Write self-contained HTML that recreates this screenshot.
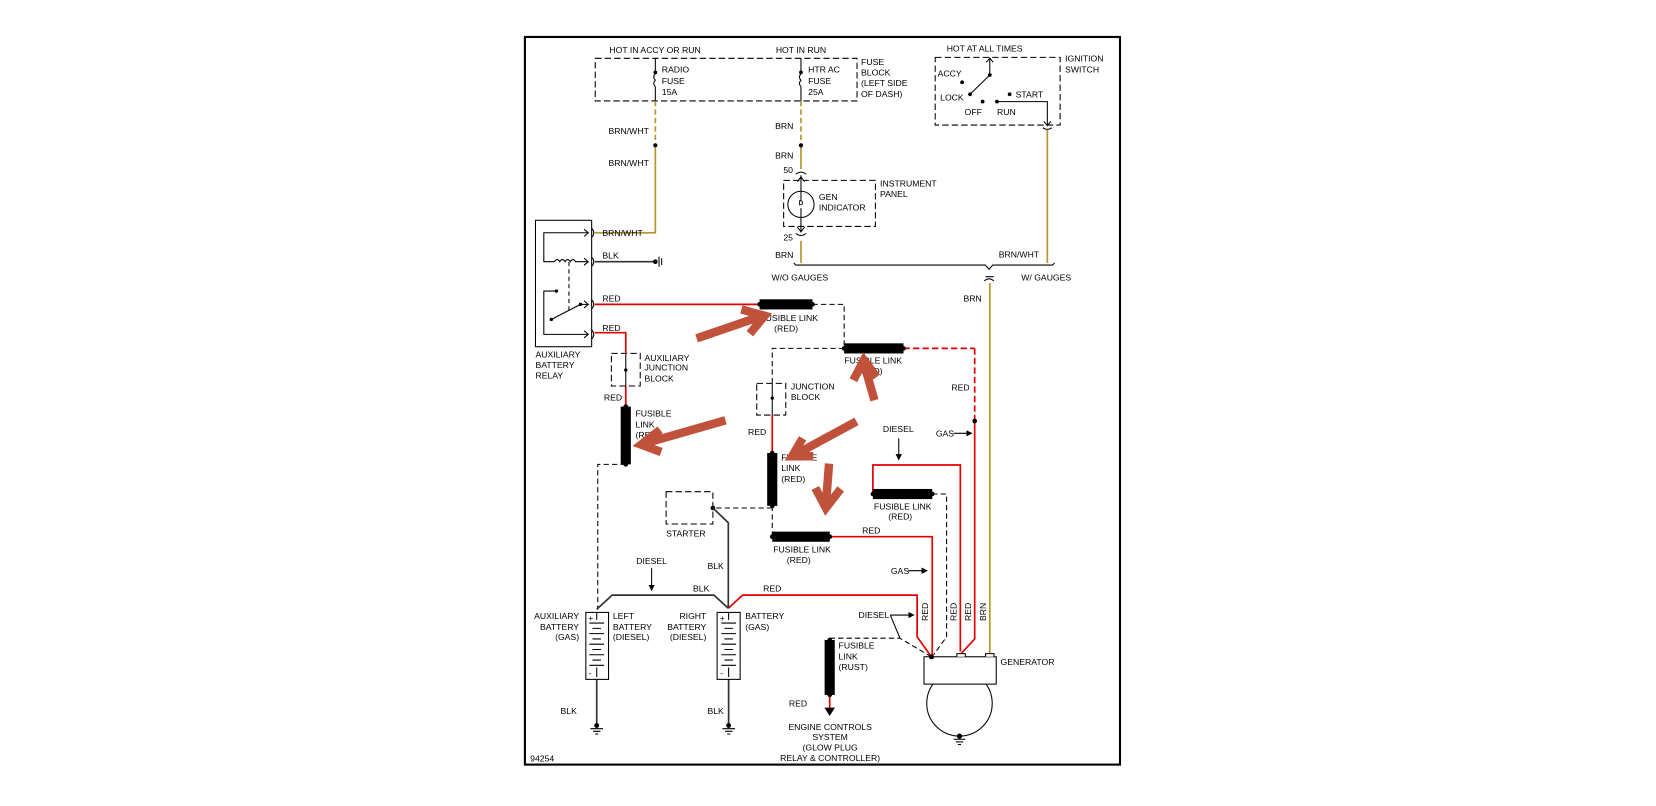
<!DOCTYPE html>
<html><head><meta charset="utf-8"><style>
html,body{margin:0;padding:0;background:#fff;width:1656px;height:806px;overflow:hidden}
svg{display:block}
text{font-family:"Liberation Sans",sans-serif;font-size:8.2px;fill:#000}
</style></head><body>
<svg width="1656" height="806" viewBox="0 0 1568 763.2" xmlns="http://www.w3.org/2000/svg">
<defs>
<marker id="ah" markerWidth="6" markerHeight="6" refX="5" refY="3" orient="auto" markerUnits="userSpaceOnUse"><path d="M0,0 L6,3 L0,6 z" fill="#000"/></marker>
</defs>
<rect x="497" y="35" width="563.5" height="689" fill="none" stroke="#000" stroke-width="2"/>

<g fill="none" stroke="#000" stroke-width="1" stroke-dasharray="6,3">
<rect x="563.6" y="55.2" width="247.9" height="40.4"/>
<rect x="885.5" y="54.3" width="118.3" height="64.1"/>
<rect x="742" y="170.8" width="86.9" height="43.6"/>
<rect x="578.9" y="334.6" width="27.3" height="30.9"/>
<rect x="716.5" y="363" width="27.5" height="30"/>
<rect x="630.7" y="465.6" width="44.3" height="30.6"/>
</g>
<text x="577" y="50">HOT IN ACCY OR RUN</text>
<text x="734.6" y="50">HOT IN RUN</text>
<text x="896.4" y="49">HOT AT ALL TIMES</text>
<text x="815.3" y="61.4">FUSE</text><text x="815.3" y="71.5">BLOCK</text><text x="815.3" y="81.3">(LEFT SIDE</text><text x="815.3" y="91.7">OF DASH)</text>
<text x="626.6" y="68.7">RADIO</text><text x="626.6" y="79.4">FUSE</text><text x="626.6" y="89.8">15A</text>
<text x="765.2" y="68.7">HTR AC</text><text x="765.2" y="79.4">FUSE</text><text x="765.2" y="89.8">25A</text>
<text x="1008.5" y="58.2">IGNITION</text><text x="1008.5" y="68.6">SWITCH</text>

<g stroke="#000" fill="none" stroke-width="1">
<line x1="620.5" y1="55.2" x2="620.5" y2="67"/><path d="M620.5,70 q-3,3 0,6 q-3,3 0,6"/><line x1="620.5" y1="82" x2="620.5" y2="95.6"/>
<line x1="758.4" y1="55.2" x2="758.4" y2="67"/><path d="M758.4,70 q-3,3 0,6 q-3,3 0,6"/><line x1="758.4" y1="82" x2="758.4" y2="95.6"/>
</g>
<circle cx="620.5" cy="68.5" r="1.8"/><circle cx="758.4" cy="68.5" r="1.8"/>

<text x="887.8" y="72.4">ACCY</text><circle cx="911" cy="77.9" r="1.8"/>
<text x="890.2" y="95">LOCK</text>
<line x1="918.5" y1="89.3" x2="937.2" y2="71" stroke="#000"/><circle cx="918.5" cy="89.3" r="1.8"/><circle cx="937.2" cy="71" r="1.8"/>
<line x1="937.2" y1="71" x2="937.2" y2="55" stroke="#000"/><path d="M934,59 L937.2,55 L940.4,59" fill="none" stroke="#000"/>
<text x="913.4" y="108.7">OFF</text><circle cx="930.4" cy="96.2" r="1.8"/>
<text x="944" y="108.7">RUN</text><circle cx="944" cy="96.2" r="1.8"/>
<polyline points="944,96.2 991.7,96.2 991.7,119" fill="none" stroke="#000"/><path d="M988.5,115 L991.7,119 L994.9,115" fill="none" stroke="#000"/>
<path d="M987.5,121 q4.2,3 8.4,0" fill="none" stroke="#000"/>
<circle cx="956" cy="89.3" r="1.8"/><text x="961.7" y="92.3">START</text>

<g stroke="#b8962e" stroke-width="1.6" fill="none">
<line x1="620.5" y1="95.6" x2="620.5" y2="137" stroke-dasharray="5,3"/>
<polyline points="620.5,138 620.5,220.4 563.2,220.4"/>
<line x1="758.4" y1="95.6" x2="758.4" y2="137" stroke-dasharray="5,3"/>
<line x1="758.4" y1="138" x2="758.4" y2="160"/>
<line x1="758.4" y1="228" x2="758.4" y2="249"/>
<line x1="991.7" y1="123" x2="991.7" y2="249"/>
<line x1="937.2" y1="268" x2="937.2" y2="619"/>
</g>
<circle cx="620.5" cy="137.6" r="2"/><circle cx="758.4" cy="137.6" r="2"/>
<text x="576.2" y="126.7">BRN/WHT</text><text x="576.2" y="157">BRN/WHT</text>
<text x="733.9" y="122">BRN</text><text x="733.9" y="150">BRN</text>
<text x="741.7" y="164">50</text><text x="741.7" y="227.8">25</text><text x="733.9" y="244.2">BRN</text>
<path d="M753.5,165 q4.9,-4 9.8,0" fill="none" stroke="#000"/>
<path d="M753.5,221 q4.9,4 9.8,0" fill="none" stroke="#000"/>
<circle cx="758.4" cy="193.5" r="12.4" fill="none" stroke="#000"/>
<line x1="758.4" y1="166" x2="758.4" y2="190" stroke="#000"/><line x1="758.4" y1="197" x2="758.4" y2="220" stroke="#000"/>
<path d="M755,172 L758.4,167.5 L761.8,172 M755,215 L758.4,219.5 L761.8,215" fill="none" stroke="#000"/>
<path d="M757,190 q3,0 3,2 q0,2 -3,2 z" fill="none" stroke="#000" stroke-width="0.8"/>
<text x="775.4" y="189.3">GEN</text><text x="775.4" y="199.3">INDICATOR</text>
<text x="833.3" y="176.6">INSTRUMENT</text><text x="833.3" y="186.4">PANEL</text>

<polyline points="751.6,249 753.6,251 933,251 936.5,255 940,251 996.5,251 998.5,249" fill="none" stroke="#000"/>
<path d="M932,266 q4.5,-4 9,0" fill="none" stroke="#000"/>
<line x1="933" y1="262" x2="941" y2="262" stroke="#000"/>
<text x="730.5" y="265.6">W/O GAUGES</text><text x="945.7" y="244">BRN/WHT</text>
<text x="967" y="265.6">W/ GAUGES</text><text x="912.3" y="285.5">BRN</text>

<rect x="507" y="208.6" width="53.2" height="119.7" fill="none" stroke="#000"/>
<g fill="none" stroke="#000">
<polyline points="557,220.4 514.9,220.4 514.9,247.8 525,247.8"/>
<path d="M525,247.8 q2.5,-4 5,0 q2.5,-4 5,0 q2.5,-4 5,0 q2.5,-4 5,0 L557,247.8"/>
<line x1="538.7" y1="248" x2="538.7" y2="296" stroke-dasharray="4,3"/>
<polyline points="526.8,275.6 514.9,275.6 514.9,316.6 557,316.6"/>
<line x1="521" y1="303" x2="549.6" y2="288.2"/><line x1="549.6" y1="288.2" x2="557" y2="288.2"/>
<path d="M553,217 L557,220.4 L553,223.8 M553,244.4 L557,247.8 L553,251.2 M553,284.8 L557,288.2 L553,291.6 M553,313.2 L557,316.6 L553,320"/>
<path d="M560.2,216 q4,4.4 0,8.8 M560.2,243.4 q4,4.4 0,8.8 M560.2,283.8 q4,4.4 0,8.8 M560.2,312.2 q4,4.4 0,8.8"/>
</g>
<circle cx="526.8" cy="275.6" r="1.6"/><circle cx="549.6" cy="288.2" r="1.6"/><circle cx="522" cy="302.5" r="1.6"/>
<text x="507" y="338.5">AUXILIARY</text><text x="507" y="348.4">BATTERY</text><text x="507" y="358.3">RELAY</text>
<line x1="563.2" y1="247.8" x2="620.5" y2="247.8" stroke="#333" stroke-width="1.6"/>
<circle cx="620.5" cy="247.8" r="2.2"/><line x1="624" y1="243" x2="624" y2="252.6" stroke="#000"/><line x1="626.5" y1="244.5" x2="626.5" y2="251" stroke="#000"/>
<text x="570.4" y="223.4">BRN/WHT</text><text x="570.4" y="245">BLK</text><text x="570.4" y="285.5">RED</text><text x="570.4" y="313.5">RED</text>

<g stroke="#e00000" stroke-width="1.6" fill="none">
<line x1="563.2" y1="288.2" x2="719" y2="288.2"/>
<polyline points="563.2,315 592.5,315 592.5,334.6"/>
<line x1="592.5" y1="365.5" x2="592.5" y2="385"/>
<line x1="855.5" y1="329.9" x2="922.9" y2="329.9" stroke-dasharray="6,3"/>
<line x1="922.9" y1="329.9" x2="922.9" y2="398" stroke-dasharray="6,3"/>
<polyline points="922.9,399 922.9,605 910,619"/>
<line x1="731.2" y1="393" x2="731.2" y2="429"/>
<polyline points="785.7,508.2 882.7,508.2 882.7,622"/>
<polyline points="826.5,467.8 826.5,440.3 909.3,440.3 909.3,617"/>
<polyline points="689.6,576 703.2,563.5 868.4,563.5 868.4,603 882,622"/>
<line x1="785.6" y1="658" x2="785.6" y2="672"/>
</g>
<line x1="592.5" y1="334.6" x2="592.5" y2="365.5" stroke="#000"/>
<circle cx="592.5" cy="350.4" r="1.6"/>
<line x1="731.2" y1="363" x2="731.2" y2="393" stroke="#000"/><circle cx="731.2" cy="377" r="1.6"/>
<polygon points="780.6,670 790.6,670 785.6,678" fill="#000"/>

<g stroke="#000" fill="none" stroke-dasharray="5,3">
<polyline points="769.3,288.2 799.3,288.2 799.3,329.9"/>
<polyline points="799.3,329.9 731.2,329.9 731.2,363"/>
<polyline points="592.5,439.7 566,439.7 566,577"/>
<polyline points="731.2,479 731.2,508.2"/>
<polyline points="731.2,481 675,481"/>
<polyline points="882.7,467.8 896.3,467.8 896.3,603 884,620"/>
<polyline points="785.6,604.3 852,604.3 882,622"/>
</g>

<g fill="#000">
<rect x="719.2" y="283.4" width="50.1" height="9.6"/><circle cx="719.2" cy="288.2" r="2.2"/><circle cx="769.3" cy="288.2" r="2.2"/>
<rect x="799.3" y="325.1" width="56.2" height="9.6"/><circle cx="799.3" cy="329.9" r="2.2"/><circle cx="855.5" cy="329.9" r="2.2"/>
<rect x="587.7" y="385" width="9.6" height="54.7"/><circle cx="592.5" cy="385" r="2.2"/><circle cx="592.5" cy="439.7" r="2.2"/>
<rect x="726.4" y="429" width="9.6" height="50"/><circle cx="731.2" cy="429" r="2.2"/><circle cx="731.2" cy="479" r="2.2"/>
<rect x="731.2" y="503.4" width="54.5" height="9.6"/><circle cx="731.2" cy="508.2" r="2.2"/><circle cx="785.7" cy="508.2" r="2.2"/>
<rect x="826.5" y="463" width="56.2" height="9.6"/><circle cx="826.5" cy="467.8" r="2.2"/><circle cx="882.7" cy="467.8" r="2.2"/>
<rect x="780.8" y="606" width="9.6" height="52"/><circle cx="785.6" cy="606" r="2.2"/><circle cx="785.6" cy="658" r="2.2"/>
<circle cx="675" cy="481" r="2.2"/><circle cx="922.9" cy="398.7" r="2.2"/>
</g>
<text x="720" y="303.8">FUSIBLE LINK</text><text x="733" y="314">(RED)</text>
<text x="799.5" y="344">FUSIBLE LINK</text><text x="813" y="354">(RED)</text>
<text x="610.2" y="341.8">AUXILIARY</text><text x="610.2" y="351">JUNCTION</text><text x="610.2" y="361.3">BLOCK</text>
<text x="571.8" y="379.3">RED</text>
<text x="601.7" y="394.4">FUSIBLE</text><text x="601.7" y="404.8">LINK</text><text x="601.7" y="414.6">(RED)</text>
<text x="748.9" y="369">JUNCTION</text><text x="748.9" y="378.6">BLOCK</text>
<text x="708.3" y="411.7">RED</text>
<text x="739.7" y="436.1">FUSIBLE</text><text x="739.7" y="446">LINK</text><text x="739.7" y="456.3">(RED)</text>
<text x="630.7" y="508">STARTER</text>
<text x="732.2" y="523">FUSIBLE LINK</text><text x="745" y="533">(RED)</text>
<text x="816.3" y="505">RED</text>
<text x="827.5" y="482.5">FUSIBLE LINK</text><text x="841" y="492">(RED)</text>
<text x="836" y="409">DIESEL</text><line x1="851" y1="415" x2="851" y2="435" stroke="#000" marker-end="url(#ah)"/>
<text x="900.8" y="369.8">RED</text>
<text x="886.1" y="413.3">GAS</text><line x1="903" y1="410.3" x2="920" y2="410.3" stroke="#000" marker-end="url(#ah)"/>
<text x="843.5" y="543.4">GAS</text><line x1="860" y1="540.4" x2="877.6" y2="540.4" stroke="#000" marker-end="url(#ah)"/>
<text x="812.9" y="585.4">DIESEL</text><line x1="843" y1="582.4" x2="865" y2="582.4" stroke="#000" marker-end="url(#ah)"/>
<line x1="843" y1="582.4" x2="852" y2="604" stroke="#000"/>
<g transform="rotate(-90)">
<text x="-588" y="878.5">RED</text><text x="-588" y="905.8">RED</text><text x="-588" y="919.4">RED</text><text x="-588" y="933.7">BRN</text>
</g>

<circle cx="908.5" cy="666" r="31" fill="none" stroke="#000"/>
<rect x="874.9" y="621.9" width="68.4" height="25.9" fill="#fff" stroke="#000"/>
<path d="M906,621.9 v-3 h8 v3 M933.2,621.9 v-3 h8 v3" fill="#fff" stroke="#000"/>
<circle cx="882" cy="622" r="2.4"/>
<circle cx="908.5" cy="697" r="2.5"/>
<line x1="903" y1="700" x2="914" y2="700" stroke="#000"/><line x1="905" y1="702.5" x2="912" y2="702.5" stroke="#000"/><line x1="907" y1="705" x2="910" y2="705" stroke="#000"/>
<text x="947.4" y="629.5">GENERATOR</text>

<text x="794" y="614">FUSIBLE</text><text x="794" y="624.5">LINK</text><text x="794" y="634.6">(RUST)</text>
<text x="764.2" y="669" text-anchor="end">RED</text>
<g text-anchor="middle"><text x="786" y="691">ENGINE CONTROLS</text><text x="786" y="700.5">SYSTEM</text><text x="786" y="710.5">(GLOW PLUG</text><text x="786" y="720.5">RELAY &amp; CONTROLLER)</text></g>

<g stroke="#333" stroke-width="1.6" fill="none">
<polyline points="565,577 579.6,563.5 676,563.5 689.6,576"/>
<polyline points="675,481 689.6,495 689.6,576"/>
<line x1="565" y1="643.3" x2="565" y2="686"/><line x1="689.9" y1="643.3" x2="689.9" y2="686"/>
</g>
<text x="602.4" y="534">DIESEL</text><line x1="617" y1="538" x2="617" y2="558.7" stroke="#000" marker-end="url(#ah)"/>
<text x="656.2" y="560">BLK</text><text x="669.9" y="538.7">BLK</text><text x="722.6" y="560.2">RED</text>

<g fill="none" stroke="#000">
<rect x="554.7" y="579.9" width="21.5" height="63.4"/>
<rect x="679" y="579.9" width="21.8" height="63.4"/>
<path d="M565,580 v7 M558,590 h14 M561,595 h8 M558,600 h14 M561,605 h8 M558,610 h14 M561,615 h8 M558,620 h14 M561,625 h8 M558,630 h14 M565,632 v9"/>
<path d="M689.9,580 v7 M683,590 h14 M686,595 h8 M683,600 h14 M686,605 h8 M683,610 h14 M686,615 h8 M683,620 h14 M686,625 h8 M683,630 h14 M689.9,632 v9"/>
</g>
<text x="557" y="588" font-size="9">+</text><text x="681.5" y="588" font-size="9">+</text>
<text x="557.5" y="640" font-size="8">-</text><text x="682" y="640" font-size="8">-</text>
<g text-anchor="end"><text x="548.3" y="586">AUXILIARY</text><text x="548.3" y="596.5">BATTERY</text><text x="548.3" y="606">(GAS)</text>
<text x="668.8" y="586">RIGHT</text><text x="668.8" y="596.5">BATTERY</text><text x="668.8" y="606">(DIESEL)</text></g>
<text x="580.3" y="586">LEFT</text><text x="580.3" y="596.5">BATTERY</text><text x="580.3" y="606">(DIESEL)</text>
<text x="705.6" y="586">BATTERY</text><text x="705.6" y="596.5">(GAS)</text>
<text x="546.2" y="676" text-anchor="end">BLK</text><text x="669.9" y="676">BLK</text>
<circle cx="565" cy="687" r="2.3"/><circle cx="689.9" cy="687" r="2.3"/>
<path d="M559,690 h12 M561.5,692.5 h7 M563.5,695 h3 M684,690 h12 M686.5,692.5 h7 M688.5,695 h3" stroke="#000"/>
<text x="502" y="721">94254</text>

<g stroke="#c0513a" stroke-width="8" fill="none" stroke-linecap="butt" stroke-linejoin="miter">
<line x1="659.6" y1="320.4" x2="722" y2="299"/><polyline points="702,293 724,299 710,316"/>
<line x1="828" y1="379" x2="818" y2="344"/><polyline points="808,360 818,341 830,357"/>
<line x1="686.9" y1="398" x2="610" y2="420"/><polyline points="625,407 607,421 626,428"/>
<line x1="811" y1="399" x2="752" y2="431"/><polyline points="760,415 750,432 770,432"/>
<line x1="785" y1="439" x2="782" y2="478"/><polyline points="772,462 782,481 796,463"/>
</g>
</svg>
</body></html>
